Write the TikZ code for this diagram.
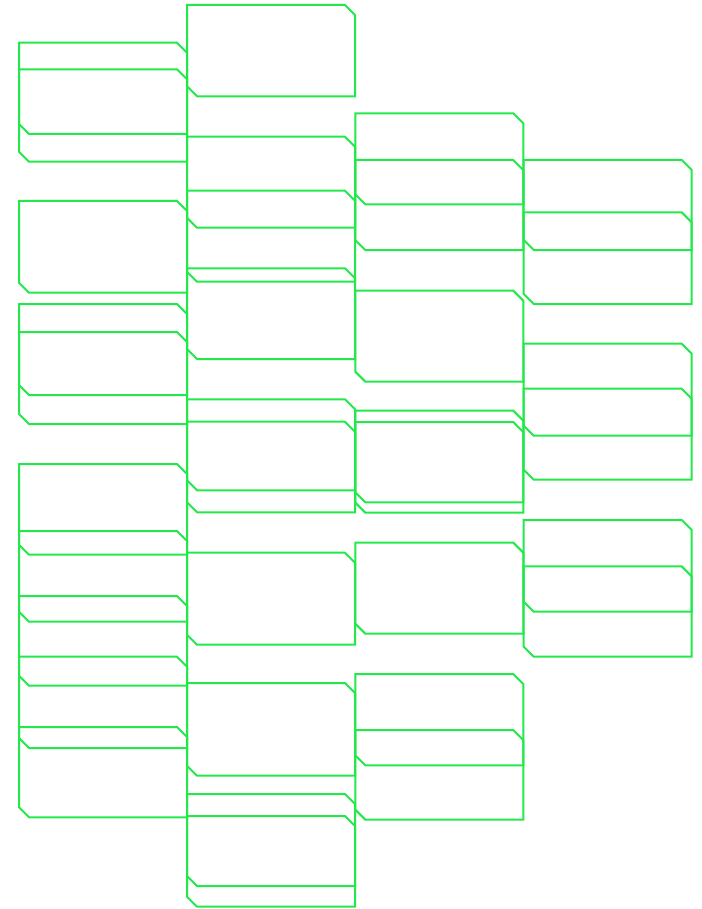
\documentclass[tikz,border=0pt]{standalone}
\usepackage{xcolor}
\usepackage{tikz}

\definecolor{tilegreen}{RGB}{34,232,74}
\tikzset{tile/.style={draw=tilegreen, line width=2pt, line join=miter}}
% left x, top y, bottom y
\newcommand{\tilebox}[3]{%
  \draw[tile] (#1,#2) -- ++(158,0) -- ++(10,10) -- (#1+168,#3)
    -- (#1+10,#3) -- (#1,#3-10) -- cycle;}

\begin{document}
\begin{tikzpicture}[x=1pt, y=-1pt]
    \useasboundingbox (0,0) rectangle (701,909);
    % first column
    \foreach \t/\b in {42.7/134, 69.3/161.7, 201/292.7, 304/395, 332/424,
        464/554.7, 531/621.7, 596/685.7, 656.7/748, 727/817.3}
        \tilebox{19}{\t}{\b};
    % second column
    \foreach \t/\b in {5/96.3, 136.7/227.7, 190.7/281.7, 268.3/359,
        399.3/490.3, 421.7/512.3, 552.7/644.7, 683/775.7, 794/886, 816/906.7}
        \tilebox{187}{\t}{\b};
    % third column
    \foreach \t/\b in {113.3/204.3, 160/250, 290.7/381.7, 410.7/502.3,
        422/512.7, 542.7/633.7, 674/765.3, 730/819.7}
        \tilebox{355.3}{\t}{\b};
    % fourth column
    \foreach \t/\b in {160/250, 212.3/304, 343.7/435.7, 388.7/479.7,
        520/611.7, 566.3/656.7}
        \tilebox{523.7}{\t}{\b};
\end{tikzpicture}
\end{document}
